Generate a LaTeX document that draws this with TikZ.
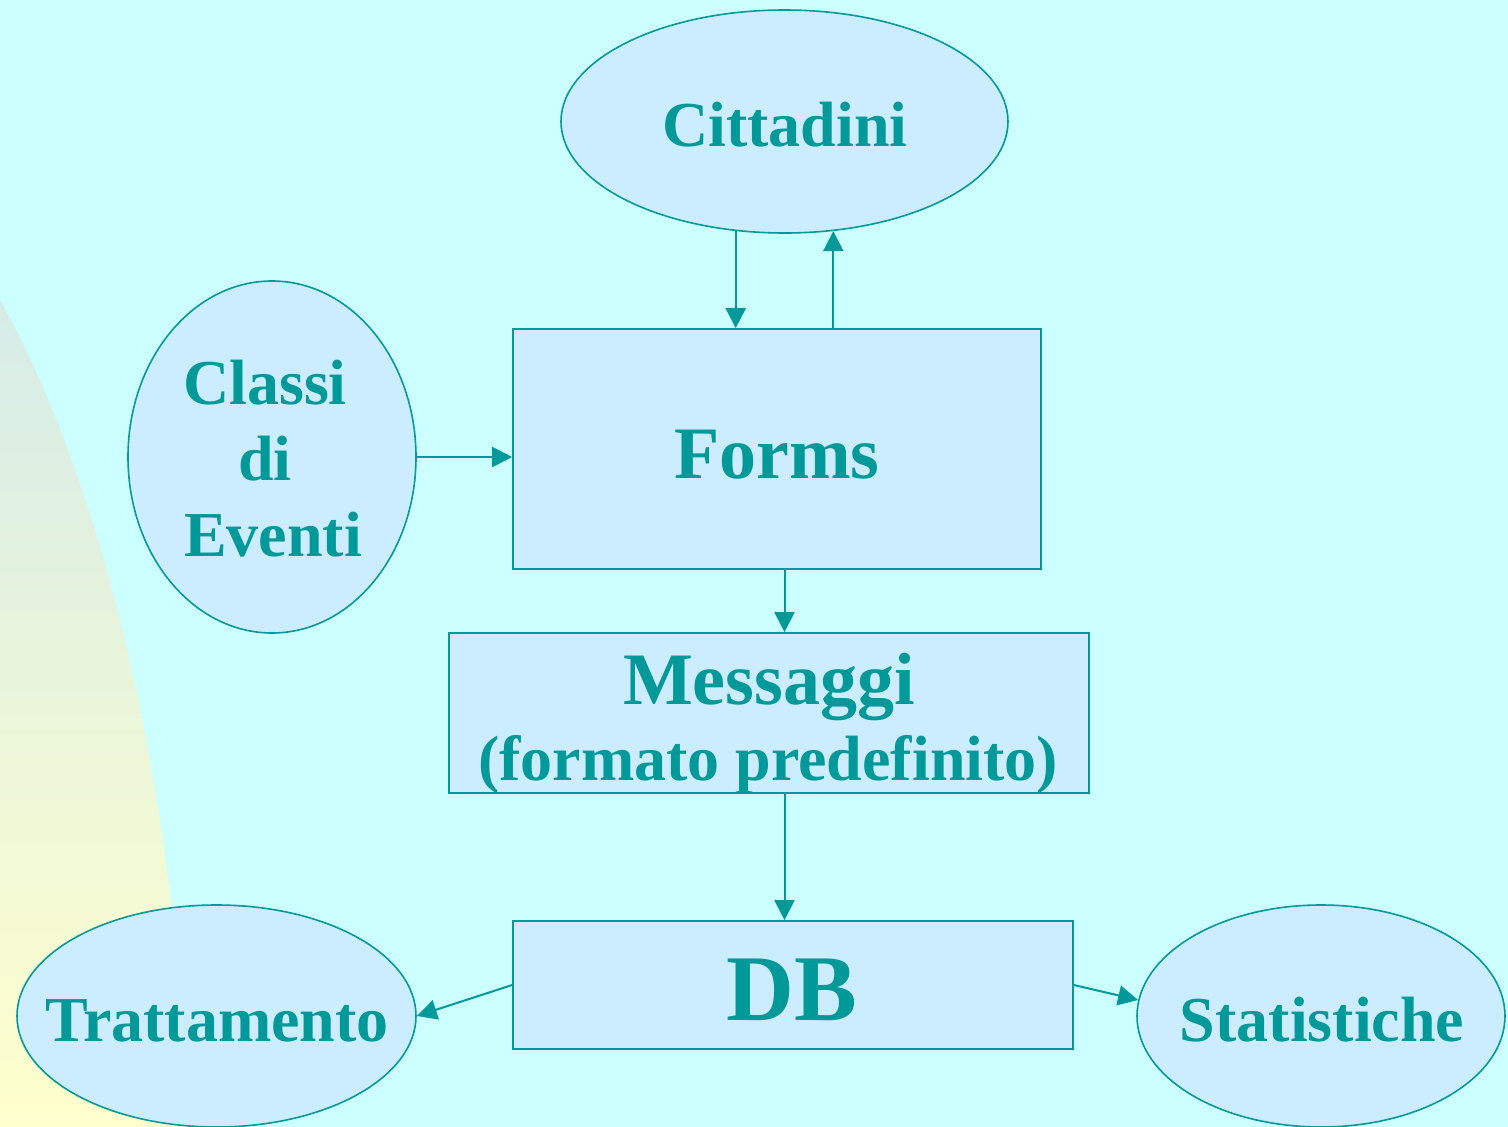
\documentclass[tikz,border=0pt]{standalone}
\usepackage{fontspec}
\setmainfont{Liberation Serif}
\usetikzlibrary{shapes.geometric,arrows.meta}
\definecolor{bg}{RGB}{204,255,255}
\definecolor{boxfill}{RGB}{204,236,255}
\definecolor{teal1}{RGB}{0,153,153}
\definecolor{gradtop}{RGB}{214,236,232}
\definecolor{gradbot}{RGB}{255,255,204}
\tikzset{
  shapebox/.style={draw=teal1, line width=1.6pt, fill=boxfill, inner sep=0pt},
  ell/.style={shapebox, ellipse},
  rbox/.style={shapebox, rectangle},
  lbl/.style={text=teal1, font=\bfseries, inner sep=0pt, anchor=base},
  arr/.style={draw=teal1, line width=2pt, -{Triangle[length=20pt,width=20pt]}},
}
\begin{document}
\begin{tikzpicture}[x=1pt,y=-1pt]
\useasboundingbox (0,0) rectangle (1508,1127);
\fill[bg] (0,0) rectangle (1508,1127);
\shade[top color=gradtop, bottom color=gradbot]
  (0,300) .. controls (100,480) and (172,760) .. (190,1127) -- (0,1127) -- cycle;

% shapes
\node[ell, minimum width=447pt, minimum height=223pt] (cit) at (784.5,121.5) {};
\node[ell, minimum width=288pt, minimum height=352pt] (cls) at (272,457) {};
\node[rbox, minimum width=528pt, minimum height=240pt] (forms) at (777,449) {};
\node[rbox, minimum width=640pt, minimum height=160pt] (msg) at (769,713) {};
\node[rbox, minimum width=560pt, minimum height=128pt] (db) at (793,985) {};
\node[ell, minimum width=399pt, minimum height=222pt] (trat) at (216.5,1016) {};
\node[ell, minimum width=368pt, minimum height=222pt] (stat) at (1321,1016) {};

% labels
\node[lbl, font=\fontsize{64}{76}\selectfont\bfseries] (tcit) at (785,146) {Cittadini};
\node[lbl, font=\fontsize{74}{76}\selectfont\bfseries] (tforms) at (777,478) {Forms};
\node[lbl, font=\fontsize{64}{76}\selectfont\bfseries] (tcls1) at (265,404) {Classi};
\node[lbl, font=\fontsize{64}{76}\selectfont\bfseries] (tcls2) at (265,480) {di};
\node[lbl, font=\fontsize{64}{76}\selectfont\bfseries] (tcls3) at (273,556) {Eventi};
\node[lbl, font=\fontsize{74}{76}\selectfont\bfseries] (tmsg1) at (769,704) {Messaggi};
\node[lbl, font=\fontsize{64}{76}\selectfont\bfseries] (tmsg2) at (768,780) {(formato predefinito)};
\node[lbl, font=\fontsize{94}{100}\selectfont\bfseries] (tdb) at (792,1020) {DB};
\node[lbl, font=\fontsize{64}{76}\selectfont\bfseries] (ttrat) at (217,1041) {Trattamento};
\node[lbl, font=\fontsize{64}{76}\selectfont\bfseries] (tstat) at (1322,1041) {Statistiche};

% arrows
\draw[arr] (cit.246.5) -- (cit.246.5 |- forms.north);
\draw[arr] (forms.north -| cit.294) -- (cit.294);
\draw[arr] (cls.east) -- (cls.east -| forms.west);
\draw[arr] (forms.south -| cit.center) -- (msg.north -| cit.center);
\draw[arr] (msg.south -| cit.center) -- (db.north -| cit.center);
\draw[arr] (db.west) -- (trat.east);
\draw[arr] (db.east) -- (stat.175);
\end{tikzpicture}
\end{document}
